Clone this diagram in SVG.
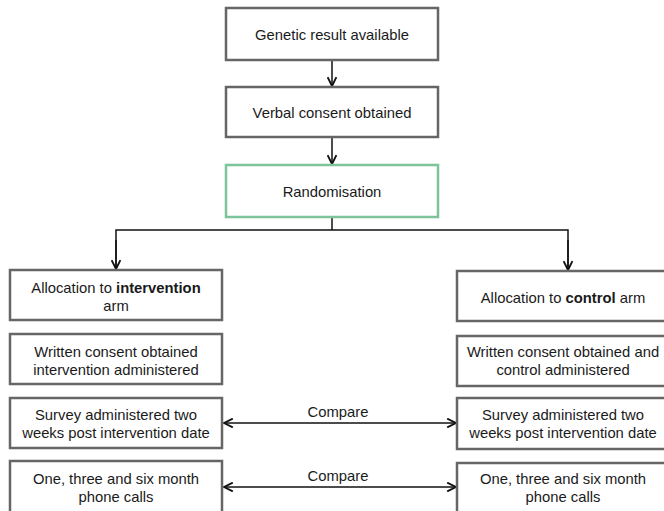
<svg xmlns="http://www.w3.org/2000/svg" width="664" height="511" viewBox="0 0 664 511">
<style>
.box{fill:#fff;stroke:#666;stroke-width:2.5}
.green{fill:#fff;stroke:#7cc49a;stroke-width:2.5}
text{font-family:"Liberation Sans",Arial,sans-serif;font-size:14.8px;fill:#1a1a1a;text-anchor:middle}
.c{fill:none;stroke:#111;stroke-width:1.5}
</style>
<defs>
<marker id="ah" viewBox="0 0 10 10" refX="9" refY="5" markerWidth="11" markerHeight="11" markerUnits="userSpaceOnUse" orient="auto-start-reverse">
<path d="M1,1 L9,5 L1,9" fill="none" stroke="#111" stroke-width="1.7"/>
</marker>
</defs>
<rect width="664" height="511" fill="#fff"/>
<g id="connectors">
<line class="c" x1="332" y1="61" x2="332" y2="86" marker-end="url(#ah)"/>
<line class="c" x1="332" y1="138" x2="332" y2="164" marker-end="url(#ah)"/>
<line class="c" x1="332" y1="218" x2="332" y2="230"/>
<polyline class="c" points="116,269 116,230 568,230 568,270" fill="none"/>
<line class="c" x1="116" y1="240" x2="116" y2="269" marker-end="url(#ah)"/>
<line class="c" x1="568" y1="240" x2="568" y2="270" marker-end="url(#ah)"/>
<line class="c" x1="224" y1="423" x2="456" y2="423" marker-start="url(#ah)" marker-end="url(#ah)"/>
<line class="c" x1="224" y1="487" x2="456" y2="487" marker-start="url(#ah)" marker-end="url(#ah)"/>
<text x="338" y="417">Compare</text>
<text x="338" y="481">Compare</text>
</g>
<g id="n1"><rect class="box" x="226" y="8" width="212" height="52"/><text x="332" y="40">Genetic result available</text></g>
<g id="n2"><rect class="box" x="226" y="87" width="212" height="50"/><text x="332" y="118">Verbal consent obtained</text></g>
<g id="n3"><rect class="green" x="226" y="165" width="212" height="52"/><text x="332" y="197">Randomisation</text></g>
<g id="l1"><rect class="box" x="10" y="270" width="212" height="50"/><text x="116" y="293">Allocation to <tspan font-weight="bold">intervention</tspan></text><text x="116" y="311">arm</text></g>
<g id="l2"><rect class="box" x="10" y="334" width="212" height="50"/><text x="116" y="357">Written consent obtained</text><text x="116" y="375">intervention administered</text></g>
<g id="l3"><rect class="box" x="10" y="398" width="212" height="50"/><text x="116" y="420">Survey administered two</text><text x="116" y="438">weeks post intervention date</text></g>
<g id="l4"><rect class="box" x="10" y="461" width="212" height="60"/><text x="116" y="484">One, three and six month</text><text x="116" y="502">phone calls</text></g>
<g id="r1"><rect class="box" x="457" y="271" width="212" height="50"/><text x="563" y="303">Allocation to <tspan font-weight="bold">control</tspan> arm</text></g>
<g id="r2"><rect class="box" x="457" y="336" width="212" height="50"/><text x="563" y="357">Written consent obtained and</text><text x="563" y="375">control administered</text></g>
<g id="r3"><rect class="box" x="457" y="398" width="212" height="51"/><text x="563" y="420">Survey administered two</text><text x="563" y="438">weeks post intervention date</text></g>
<g id="r4"><rect class="box" x="457" y="463" width="212" height="60"/><text x="563" y="484">One, three and six month</text><text x="563" y="502">phone calls</text></g>
</svg>
